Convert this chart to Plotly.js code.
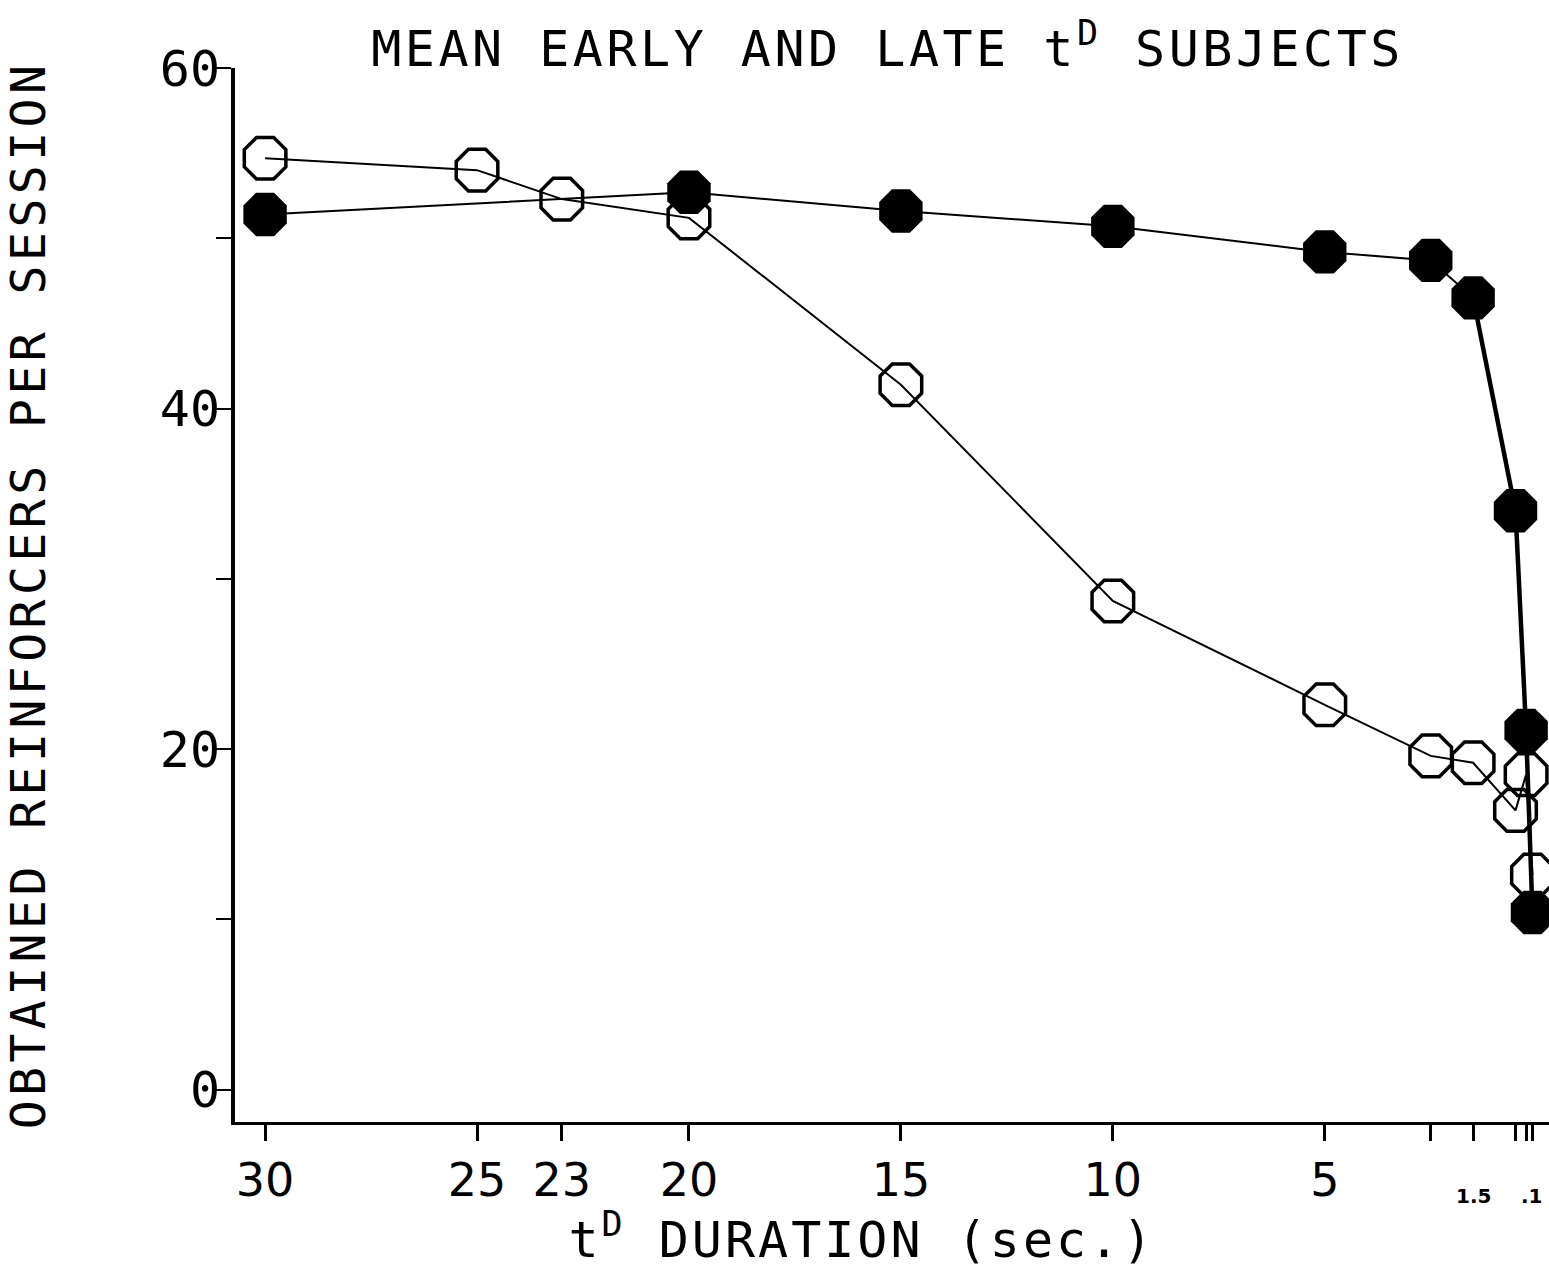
<!DOCTYPE html>
<html>
<head>
<meta charset="utf-8">
<script src="https://cdn.plot.ly/plotly-3.0.1.min.js"></script>
<style>html,body{margin:0;padding:0;background:#fff;}#chart{width:1549px;height:1269px;}</style>
</head>
<body>
<div id="chart"></div>
<script>
// Durations (sec.) and mean obtained reinforcers per session
const openDuration = [30, 25, 23, 20, 15, 10, 5, 2.5, 1.5, 0.5, 0.25, 0.1];
const openReinforcers = [54.7, 54.0, 52.3, 51.2, 41.4, 28.7, 22.6, 19.6, 19.2, 16.4, 18.5, 12.6];
const filledDuration = [30, 20, 15, 10, 5, 2.5, 1.5, 0.5, 0.25, 0.1];
const filledReinforcers = [51.4, 52.7, 51.6, 50.7, 49.2, 48.7, 46.5, 34.0, 21.1, 10.4];

const xTickVals = [30, 25, 23, 20, 15, 10, 5, 2.5, 1.5, 0.5, 0.25, 0.1];
const xTickText = ["30", "25", "23", "20", "15", "10", "5", "", "", "", "", ""];
const smallTickLabels = [{v: 1.5, t: "1.5"}, {v: 0.1, t: ".1"}];
const yTickVals = [0, 10, 20, 30, 40, 50, 60];
const yTickText = ["0", "", "20", "", "40", "", "60"];

const mono = "DejaVu Sans Mono, monospace";
const sans = "DejaVu Sans, sans-serif";

const traces = [
  {
    x: filledDuration, y: filledReinforcers, mode: "lines+markers", type: "scatter",
    line: {color: "#000", width: 2},
    marker: {symbol: "octagon", size: 47, color: "#000"},
    cliponaxis: false, showlegend: false
  },
  {
    x: filledDuration.slice(6), y: filledReinforcers.slice(6), mode: "lines", type: "scatter",
    line: {color: "#000", width: 4.5},
    cliponaxis: false, showlegend: false
  },
  {
    x: openDuration, y: openReinforcers, mode: "lines+markers", type: "scatter",
    line: {color: "#000", width: 2},
    marker: {symbol: "octagon-open", size: 45, color: "#000", line: {width: 3.5, color: "#000"}},
    cliponaxis: false, showlegend: false
  }
];

const layout = {
  width: 1549, height: 1269,
  paper_bgcolor: "#fff", plot_bgcolor: "#fff",
  margin: {l: 235, r: 0, t: 68, b: 147},
  title: {
    text: "<span style=\"letter-spacing:3.5px\">MEAN EARLY AND LATE t<sup>D</sup> SUBJECTS</span>",
    font: {family: mono, size: 50, color: "#000"},
    x: 0.573, xanchor: "center", y: 0.962, yanchor: "middle"
  },
  xaxis: {
    range: [30.71, -0.29],
    showgrid: false, zeroline: false,
    showline: true, linecolor: "#000", linewidth: 3,
    ticks: "outside", ticklen: 16, tickwidth: 3, tickcolor: "#000",
    tickmode: "array", tickvals: xTickVals, ticktext: xTickText,
    tickfont: {family: sans, size: 46, color: "#000"},
    ticklabelstandoff: 0,
    title: {
      text: "<span style=\"letter-spacing:3px\">t<sup>D</sup> DURATION (sec.)</span>&nbsp;&nbsp;",
      font: {family: mono, size: 50, color: "#000"},
      standoff: 2
    }
  },
  yaxis: {
    range: [-1.9, 60],
    showgrid: false, zeroline: false,
    showline: true, linecolor: "#000", linewidth: 4,
    ticks: "outside", ticklen: 15, tickwidth: 2, tickcolor: "#000",
    tickmode: "array", tickvals: yTickVals, ticktext: yTickText,
    tickfont: {family: mono, size: 50, color: "#000"},
    ticklabelstandoff: -14,
    title: {
      text: "<span style=\"letter-spacing:4.5px\">OBTAINED REINFORCERS PER SESSION</span>",
      font: {family: mono, size: 48, color: "#000"},
      standoff: 100
    }
  },
  annotations: smallTickLabels.map(d => ({
    x: d.v, y: 0, xref: "x", yref: "paper",
    yshift: -88, text: "<b>" + d.t + "</b>", showarrow: false,
    font: {family: sans, size: 20, color: "#000"}
  }))
};

Plotly.newPlot("chart", traces, layout, {displayModeBar: false, staticPlot: true});
</script>
</body>
</html>
